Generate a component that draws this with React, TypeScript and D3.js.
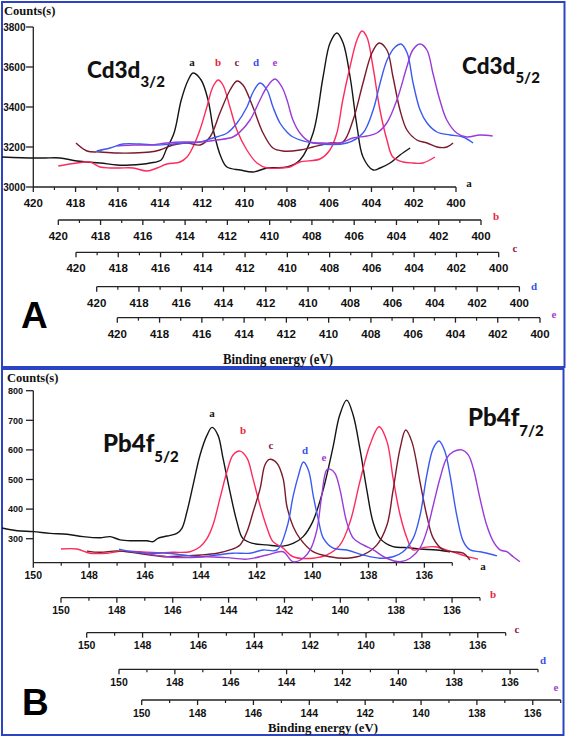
import React from "react";
import * as d3 from "d3";

// ---------- DATA ----------
const seriesNames = ["a", "b", "c", "d", "e"];

// Panel A: Cd3d spectra, [binding energy (eV, own axis), counts]
const cdA: [number, number][] = [[421.48,3150],[420.0,3145],[419.45,3145],[418.74,3145],[417.93,3130],[416.84,3120],[416.04,3110],[415.42,3110],[414.47,3120],[413.95,3135],[413.72,3185],[413.34,3270],[413.0,3435],[412.67,3535],[412.44,3570],[412.06,3535],[411.73,3435],[411.45,3270],[411.12,3150],[410.84,3100],[410.21,3085],[409.6,3075],[408.94,3095],[407.99,3100],[407.38,3135],[406.76,3270],[406.29,3550],[405.96,3720],[405.63,3770],[405.34,3720],[405.01,3550],[404.68,3300],[404.4,3150],[403.92,3085],[403.59,3095],[403.12,3120],[402.65,3160],[402.17,3195]];
const cdB: [number, number][] = [[420.0,3105],[419.12,3120],[418.5,3125],[418.03,3100],[417.55,3095],[417.08,3095],[416.46,3095],[415.8,3080],[415.33,3095],[414.86,3115],[414.24,3125],[413.91,3150],[413.63,3200],[413.3,3285],[412.97,3400],[412.69,3500],[412.44,3535],[412.21,3510],[411.88,3400],[411.55,3285],[411.08,3185],[410.6,3120],[410.13,3095],[409.51,3095],[409.04,3100],[408.57,3125],[407.62,3140],[407.15,3185],[406.82,3270],[406.54,3435],[406.2,3600],[405.87,3735],[405.63,3780],[405.4,3750],[405.11,3600],[404.78,3385],[404.45,3235],[404.17,3150],[403.69,3125],[403.22,3120],[402.75,3120],[402.18,3150]];
const cdC: [number, number][] = [[420.0,3220],[419.48,3180],[418.86,3175],[418.06,3170],[417.3,3170],[416.5,3175],[416.03,3185],[415.41,3210],[414.75,3220],[414.13,3210],[413.66,3250],[413.19,3370],[412.71,3485],[412.38,3530],[412.1,3510],[411.63,3400],[411.15,3270],[410.68,3195],[410.21,3180],[409.4,3185],[408.79,3200],[407.98,3220],[407.37,3225],[406.89,3335],[406.42,3520],[406.0,3670],[405.66,3720],[405.29,3685],[405.0,3550],[404.67,3385],[404.34,3285],[403.87,3235],[403.39,3220],[402.92,3200],[402.45,3200],[402.16,3220]];
const cdD: [number, number][] = [[420.0,3180],[419.37,3195],[418.76,3215],[417.95,3215],[417.15,3210],[416.39,3215],[415.73,3220],[415.11,3225],[414.5,3245],[413.83,3270],[413.36,3320],[412.89,3400],[412.6,3475],[412.27,3520],[411.94,3485],[411.66,3400],[411.33,3320],[411.0,3275],[410.71,3250],[409.76,3220],[408.16,3220],[407.4,3270],[406.92,3385],[406.59,3520],[406.26,3635],[405.88,3700],[405.6,3715],[405.31,3670],[405.03,3520],[404.7,3385],[404.37,3320],[403.9,3275],[403.28,3260],[402.67,3250],[402.19,3220]];
const cdE: [number, number][] = [[420.0,3205],[419.26,3210],[418.45,3210],[417.65,3220],[416.89,3225],[416.09,3225],[415.28,3235],[414.53,3250],[414.2,3275],[413.72,3335],[413.25,3435],[412.92,3500],[412.54,3540],[412.21,3500],[411.97,3435],[411.69,3335],[411.36,3270],[410.88,3225],[410.27,3220],[409.46,3220],[408.85,3245],[408.19,3255],[407.72,3270],[407.25,3320],[406.77,3435],[406.3,3600],[406.02,3685],[405.68,3715],[405.35,3685],[405.07,3570],[404.74,3435],[404.41,3335],[403.94,3270],[403.47,3250],[402.85,3260],[402.24,3255]];

// Panel B: Pb4f spectra
const pbA: [number, number][] = [[151.12,336],[150.58,327],[150.0,324],[149.4,318],[148.79,315],[148.22,307],[147.61,303],[147.25,307],[146.89,296],[146.43,293],[145.93,293],[145.71,290],[145.54,301],[145.21,309],[144.86,318],[144.68,335],[144.5,391],[144.28,481],[144.03,583],[143.78,650],[143.6,676],[143.39,650],[143.21,573],[142.96,459],[142.71,357],[142.5,301],[142.14,284],[141.64,279],[141.07,275],[140.7,284],[140.34,307],[140.0,357],[139.64,459],[139.28,605],[139.03,718],[138.78,768],[138.55,718],[138.31,605],[138.05,459],[137.84,357],[137.59,301],[137.12,273],[136.62,270],[136.15,265],[135.55,262],[135.08,256]];
const pbB: [number, number][] = [[150.0,265],[149.43,265],[148.96,251],[148.35,251],[147.78,258],[147.17,256],[146.56,253],[145.99,254],[145.38,256],[145.02,273],[144.77,301],[144.56,346],[144.31,436],[144.06,526],[143.84,583],[143.59,596],[143.34,572],[143.13,504],[142.88,414],[142.62,335],[142.41,290],[142.05,268],[141.69,239],[140.98,234],[140.48,245],[140.01,279],[139.65,357],[139.3,493],[138.94,617],[138.61,678],[138.33,628],[138.11,504],[137.86,380],[137.61,301],[137.4,262],[137.04,270],[136.61,273],[136.07,258],[135.54,242],[135.07,231]];
const pbC: [number, number][] = [[149.99,258],[149.52,254],[148.92,259],[148.34,253],[147.73,245],[147.13,239],[146.55,242],[145.94,245],[145.33,251],[144.87,262],[144.51,279],[144.26,324],[144.04,391],[143.79,470],[143.62,549],[143.46,568],[143.19,555],[142.97,504],[142.83,408],[142.61,341],[142.37,301],[141.9,256],[141.29,239],[140.68,234],[140.11,245],[139.61,279],[139.25,346],[139.04,459],[138.78,605],[138.58,667],[138.36,628],[138.07,493],[137.83,380],[137.59,301],[137.23,262],[136.87,256],[136.52,251],[136.28,228]];
const pbD: [number, number][] = [[150.0,265],[149.5,256],[148.89,251],[148.28,251],[147.71,245],[147.1,239],[146.49,245],[145.92,251],[145.31,251],[144.84,262],[144.34,262],[143.98,341],[143.77,442],[143.59,509],[143.4,559],[143.22,532],[143.04,442],[142.86,363],[142.68,301],[142.33,268],[141.84,262],[141.26,245],[140.66,234],[140.19,239],[139.83,256],[139.47,301],[139.22,380],[138.98,515],[138.75,605],[138.54,630],[138.33,594],[138.15,515],[137.91,380],[137.67,290],[137.43,262],[137.08,256],[136.82,251],[136.47,242]];
const pbE: [number, number][] = [[149.99,252],[149.09,239],[148.38,236],[147.66,239],[146.95,236],[146.23,231],[145.51,245],[144.94,256],[144.58,222],[144.22,234],[143.97,262],[143.73,329],[143.56,442],[143.38,532],[143.26,535],[143.08,521],[142.9,465],[142.66,356],[142.42,301],[142.07,279],[141.71,262],[141.23,234],[140.75,222],[140.39,234],[140.04,268],[139.8,324],[139.56,414],[139.32,504],[139.08,572],[138.84,594],[138.54,600],[138.31,583],[138.13,538],[137.89,436],[137.65,346],[137.41,290],[137.17,262],[136.93,256],[136.7,239],[136.46,222]];

const seriesA = [cdA, cdB, cdC, cdD, cdE];
const seriesB = [pbA, pbB, pbC, pbD, pbE];

const yTicksA = [3000, 3200, 3400, 3600, 3800];
const yTicksB = [300, 400, 500, 600, 700, 800];
const xMajorA = d3.range(420, 399, -2);
const xMinorA = d3.range(419, 400, -2);
const xMajorB = d3.range(150, 135, -2);
const xMinorB = d3.range(149, 134, -2);

// ---------- LAYOUT / STYLE ----------
const W = 567, H = 738;
const curveColors = ["#151515", "#ff2a5c", "#7a1a2c", "#3b5bf0", "#9a3ad8"];
const labelColors = ["#151515", "#e8283c", "#8a2050", "#3a4fe6", "#a23ccf"];
const frame = "#2c44c4";
const axisColor = "#222";
const sansB = "'Liberation Sans', Arial, sans-serif";
const serifB = "'Liberation Serif', 'Times New Roman', serif";
const titleF = "Lato, 'Open Sans', sans-serif";

// Panel A
const axA_x0 = [33.3, 58.3, 76, 96.7, 117.3];
const axA_y = [187, 220, 252.3, 286.7, 317.7];
const axA_len = 422.7;
const yA = d3.scaleLinear().domain([3000, 3800]).range([187, 27]);
const xA = axA_x0.map((x0) => d3.scaleLinear().domain([420, 400]).range([x0, x0 + axA_len]));
const endLabA: [number, number][] = [[469, 187], [496, 220], [515, 252], [534, 290], [554, 318]];
const peakLabA: [number, number][] = [[192, 66], [218, 66], [237, 66], [256, 66], [275, 66]];

// Panel B
const axB_x0 = [33.3, 61, 86.7, 119, 141.7];
const axB_y = [562.7, 597.7, 632.7, 669.3, 700];
const axB_len = 419;
const yB = d3.scaleLinear().domain([300, 800]).range([538.7, 390.7]);
const xB = axB_x0.map((x0) => d3.scaleLinear().domain([150, 135]).range([x0, x0 + axB_len]));
const endLabB: [number, number][] = [[483, 570], [493, 598], [517, 633], [543, 664], [556, 691]];
const peakLabB: [number, number][] = [[212, 417], [243, 434], [271, 449], [305, 454], [324, 461]];

function XAxis({ scale, y, major, minor, fs, majLen, minLen, gap }: any) {
  const [r0, r1] = scale.range();
  return (
    <g>
      <line x1={r0} x2={r1} y1={y} y2={y} stroke={axisColor} strokeWidth={1.3} />
      {major.map((v: number) => (
        <line key={"M" + v} x1={scale(v)} x2={scale(v)} y1={y} y2={y + majLen} stroke={axisColor} strokeWidth={1.3} />
      ))}
      {minor.map((v: number) => (
        <line key={"m" + v} x1={scale(v)} x2={scale(v)} y1={y} y2={y + minLen} stroke={axisColor} strokeWidth={1.2} />
      ))}
      {major.map((v: number) => (
        <text key={"t" + v} x={scale(v)} y={y + gap} textAnchor="middle" fontFamily={sansB} fontWeight="bold" fontSize={fs} fill="#111">
          {v}
        </text>
      ))}
    </g>
  );
}

export default function App() {
  const lineA = (k: number) =>
    d3.line<[number, number]>().x((d) => xA[k](d[0])).y((d) => yA(d[1])).curve(d3.curveCatmullRom.alpha(0.5))(seriesA[k]) || "";
  const lineB = (k: number) =>
    d3.line<[number, number]>().x((d) => xB[k](d[0])).y((d) => yB(d[1])).curve(d3.curveCatmullRom.alpha(0.5))(seriesB[k]) || "";

  return (
    <svg width={W} height={H} viewBox={`0 0 ${W} ${H}`} style={{ position: "absolute", left: 0, top: 0, background: "#fff" }}>
      <rect x={0} y={0} width={W} height={H} fill="#fff" />
      {/* frames */}
      <rect x={2} y={2} width={562.5} height={365} fill="none" stroke={frame} strokeWidth={2} />
      <rect x={2} y={369} width={561.5} height={366} fill="none" stroke={frame} strokeWidth={2} />

      {/* ===== Panel A ===== */}
      <text x={4} y={15} fontFamily={serifB} fontWeight="bold" fontSize={12.5} fill="#111">Counts(s)</text>
      <line x1={33.3} x2={33.3} y1={yA(3800)} y2={yA(3000)} stroke={axisColor} strokeWidth={1.3} />
      {yTicksA.map((v) => (
        <g key={v}>
          <line x1={26} x2={33.3} y1={yA(v)} y2={yA(v)} stroke={axisColor} strokeWidth={1.3} />
          <text x={25.5} y={yA(v) + 3.6} textAnchor="end" fontFamily={sansB} fontWeight="bold" fontSize={10} fill="#111">{v}</text>
        </g>
      ))}
      {xA.map((s, k) => (
        <XAxis key={k} scale={s} y={axA_y[k]} major={xMajorA} minor={xMinorA} fs={11.5} majLen={5} minLen={3} gap={20} />
      ))}
      {seriesA.map((_, k) => (
        <path key={k} d={lineA(k)} fill="none" stroke={curveColors[k]} strokeWidth={1.4} />
      ))}
      {seriesNames.map((n, k) => (
        <text key={"pa" + k} x={peakLabA[k][0]} y={peakLabA[k][1]} textAnchor="middle" fontFamily={serifB} fontWeight="bold" fontSize={11} fill={labelColors[k]}>{n}</text>
      ))}
      {seriesNames.map((n, k) => (
        <text key={"ea" + k} x={endLabA[k][0]} y={endLabA[k][1]} textAnchor="middle" fontFamily={serifB} fontWeight="bold" fontSize={11} fill={labelColors[k]}>{n}</text>
      ))}
      <text x={87} y={78} fontFamily={titleF} fontWeight="900" fontSize={22.5} fill="#111">
        Cd3d<tspan fontSize={15} dy={9}>3/2</tspan>
      </text>
      <text x={462} y={74} fontFamily={titleF} fontWeight="900" fontSize={22.5} fill="#111">
        Cd3d<tspan fontSize={15} dy={9}>5/2</tspan>
      </text>
      <text x={21} y={328} fontFamily={sansB} fontWeight="bold" fontSize={37} fill="#000">A</text>
      <text x={223} y={364} textLength={110} lengthAdjust="spacingAndGlyphs" fontFamily={serifB} fontWeight="bold" fontSize={15} fill="#111">Binding energy (eV)</text>

      {/* ===== Panel B ===== */}
      <text x={7} y={382} fontFamily={serifB} fontWeight="bold" fontSize={12.5} fill="#111">Counts(s)</text>
      <line x1={33.3} x2={33.3} y1={yB(800)} y2={axB_y[0]} stroke={axisColor} strokeWidth={1.3} />
      {yTicksB.map((v) => (
        <g key={v}>
          <line x1={26} x2={33.3} y1={yB(v)} y2={yB(v)} stroke={axisColor} strokeWidth={1.3} />
          <text x={23} y={yB(v) + 3.3} textAnchor="end" fontFamily={sansB} fontWeight="bold" fontSize={9} fill="#111">{v}</text>
        </g>
      ))}
      {xB.map((s, k) => (
        <XAxis key={k} scale={s} y={axB_y[k]} major={xMajorB} minor={xMinorB} fs={10.5} majLen={5} minLen={3} gap={16.5} />
      ))}
      {seriesB.map((_, k) => (
        <path key={k} d={lineB(k)} fill="none" stroke={curveColors[k]} strokeWidth={1.4} />
      ))}
      {seriesNames.map((n, k) => (
        <text key={"pb" + k} x={peakLabB[k][0]} y={peakLabB[k][1]} textAnchor="middle" fontFamily={serifB} fontWeight="bold" fontSize={11} fill={labelColors[k]}>{n}</text>
      ))}
      {seriesNames.map((n, k) => (
        <text key={"eb" + k} x={endLabB[k][0]} y={endLabB[k][1]} textAnchor="middle" fontFamily={serifB} fontWeight="bold" fontSize={11} fill={labelColors[k]}>{n}</text>
      ))}
      <text x={103} y={452} fontFamily={titleF} fontWeight="900" fontSize={24} fill="#111">
        Pb4f<tspan fontSize={15} dy={10}>5/2</tspan>
      </text>
      <text x={468} y={426} fontFamily={titleF} fontWeight="900" fontSize={24} fill="#111">
        Pb4f<tspan fontSize={15} dy={10}>7/2</tspan>
      </text>
      <text x={22} y={715} fontFamily={sansB} fontWeight="bold" fontSize={37} fill="#000">B</text>
      <text x={268} y={731.5} textLength={110} lengthAdjust="spacingAndGlyphs" fontFamily={serifB} fontWeight="bold" fontSize={13} fill="#111">Binding energy (eV)</text>
    </svg>
  );
}
